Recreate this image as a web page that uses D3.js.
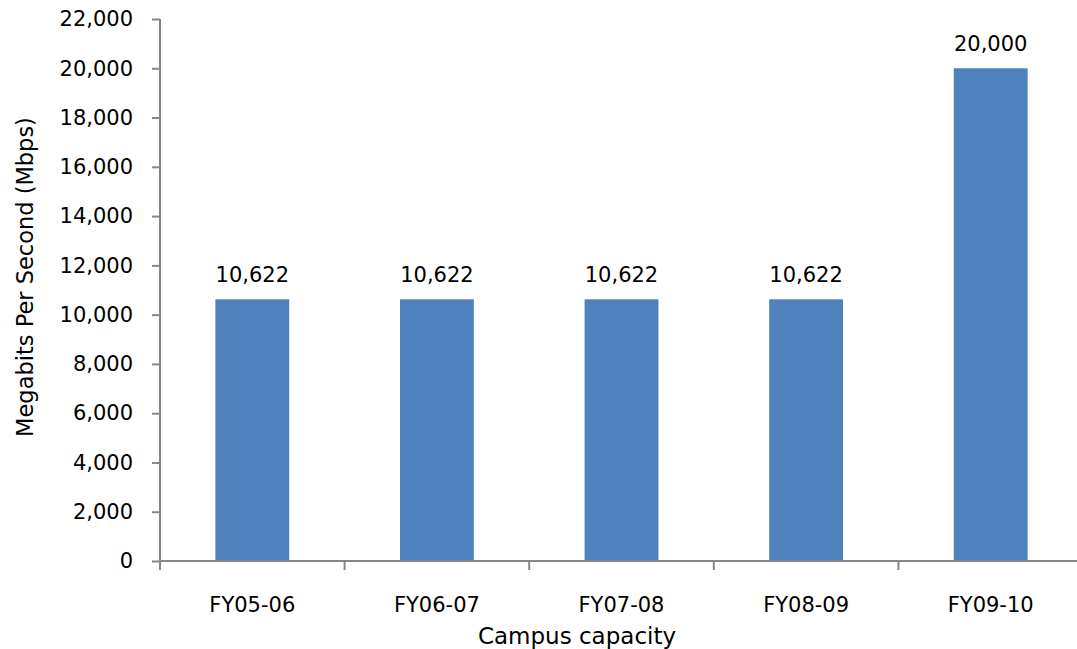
<!DOCTYPE html>
<html><head><meta charset="utf-8">
<script src="https://cdn.jsdelivr.net/npm/d3@7/dist/d3.min.js"></script>
<style>body{margin:0;background:#fff}svg{display:block}text{font-family:"DejaVu Sans",Verdana,sans-serif;fill:#000}</style>
</head><body>
<svg id="c" width="1077" height="649"></svg>
<script>
const categories = ["FY05-06","FY06-07","FY07-08","FY08-09","FY09-10"];
const values = [10622,10622,10622,10622,20000];
const yTicks = [0,2000,4000,6000,8000,10000,12000,14000,16000,18000,20000,22000];

const svg = d3.select("#c");
const x = d3.scaleBand().domain(categories).range([160,1083]).paddingInner(0.6).paddingOuter(0.3);
const y = d3.scaleLinear().domain([0,22000]).range([561,19]);
const fmt = d3.format(",");
const axisColor = "#868686";
const fs = 21;

// bars
svg.selectAll("rect.bar").data(values).join("rect")
  .attr("x",(d,i)=>x(categories[i])).attr("width",x.bandwidth())
  .attr("y",d=>y(d)).attr("height",d=>y(0)-y(d)).attr("fill","#4F81BD");

// y axis
const ya = svg.append("g").attr("transform","translate(160,0)")
  .call(d3.axisLeft(y).tickValues(yTicks).tickFormat(fmt).tickSize(8).tickPadding(19));
ya.select(".domain").attr("stroke",axisColor).attr("stroke-width",2).attr("d","M0,19V561");
ya.selectAll(".tick line").attr("stroke",axisColor).attr("stroke-width",2);
ya.selectAll("text").attr("font-size",fs).attr("fill","#000").style("font-family","'DejaVu Sans',Verdana,sans-serif");

// x axis
svg.append("line").attr("x1",159).attr("x2",1077).attr("y1",561).attr("y2",561).attr("stroke",axisColor).attr("stroke-width",2);
const edges = categories.map(c=>x(c)-x.bandwidth()*0.75).concat([x(categories[4])+x.bandwidth()*1.75]);
svg.selectAll("line.xt").data(edges).join("line")
  .attr("x1",d=>d).attr("x2",d=>d).attr("y1",561).attr("y2",570).attr("stroke",axisColor).attr("stroke-width",2);
svg.selectAll("text.xl").data(categories).join("text")
  .attr("x",d=>x(d)+x.bandwidth()/2).attr("y",612).attr("text-anchor","middle").attr("font-size",fs).text(d=>d);

// data labels
svg.selectAll("text.dl").data(values).join("text")
  .attr("x",(d,i)=>x(categories[i])+x.bandwidth()/2).attr("y",d=>y(d)-17.5)
  .attr("text-anchor","middle").attr("font-size",fs).text(d=>fmt(d));

// titles
svg.append("text").attr("x",577).attr("y",644).attr("text-anchor","middle").attr("font-size",23).text("Campus capacity");
svg.append("text").attr("transform","translate(33,277) rotate(-90)").attr("text-anchor","middle").attr("font-size",22.5).text("Megabits Per Second (Mbps)");
</script>
</body></html>
